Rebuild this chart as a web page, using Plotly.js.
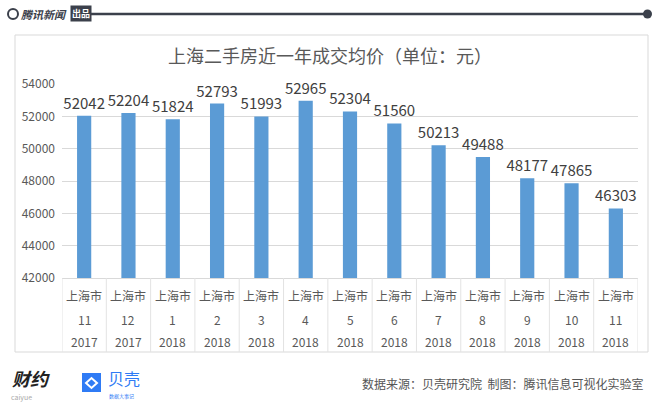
<!DOCTYPE html>
<html>
<head>
<meta charset="utf-8">
<script src="https://cdn.plot.ly/plotly-3.0.1.min.js"></script>
<style>
  body { margin: 0; background: #fff; }
  #plot { width: 660px; height: 402px; }
</style>
</head>
<body>
<div id="plot"></div>
<script>
// data
var regions = ['上海市', '上海市', '上海市', '上海市', '上海市', '上海市', '上海市', '上海市', '上海市', '上海市', '上海市', '上海市', '上海市'];
var months = ['11', '12', '1', '2', '3', '4', '5', '6', '7', '8', '9', '10', '11'];
var years = ['2017', '2017', '2018', '2018', '2018', '2018', '2018', '2018', '2018', '2018', '2018', '2018', '2018'];
var prices = [52042, 52204, 51824, 52793, 51993, 52965, 52304, 51560, 50213, 49488, 48177, 47865, 46303];
var yTicks = [42000, 44000, 46000, 48000, 50000, 52000, 54000];

var W = 660, H = 402;
function px(x) { return x / W; }
function py(y) { return 1 - y / H; }

var cjk = '"Noto Sans CJK SC", "Noto Sans", sans-serif';
var idx = prices.map(function (_, i) { return i; });

var trace = {
    type: 'bar',
    x: idx,
    y: prices,
    width: 0.32,
    marker: { color: '#5b9bd5' },
    text: prices.map(String),
    textposition: 'outside',
    constraintext: 'none',
    textfont: { family: cjk, size: 15, color: '#404040' },
    cliponaxis: false,
    hoverinfo: 'skip'
};

var shapes = [];
var annotations = [];

function note(x, y, text, font, xanchor, xref) {
    var a = { xref: xref || 'paper', yref: 'paper', x: x, y: y, text: text, showarrow: false,
        xanchor: xanchor || 'center', yanchor: 'middle', font: font };
    annotations.push(a);
    return a;
}

// outer frame
shapes.push({ type: 'rect', xref: 'paper', yref: 'paper', x0: px(15), x1: px(648), y0: py(352), y1: py(35),
    line: { color: '#d9d9d9', width: 1 }, layer: 'below' });

// category cell separators
for (var i = 0; i <= prices.length; i++) {
    shapes.push({ type: 'line', xref: 'x', yref: 'paper', x0: i - 0.5, x1: i - 0.5, y0: py(278), y1: py(352),
        line: { color: '#e3e3e3', width: 1 } });
}

// three-row category labels
var catFont = { family: cjk, size: 12, color: '#595959' };
idx.forEach(function (i) {
    note(i, py(295), regions[i], catFont, 'center', 'x');
    note(i, py(319), months[i], catFont, 'center', 'x');
    note(i, py(341), years[i], catFont, 'center', 'x');
});

// header bar
shapes.push({ type: 'line', xref: 'paper', yref: 'paper', x0: px(90), x1: px(647), y0: py(14), y1: py(14),
    line: { color: '#3b404b', width: 2.5 } });
shapes.push({ type: 'circle', xref: 'paper', yref: 'paper', x0: px(643), x1: px(652), y0: py(18.5), y1: py(9.5),
    fillcolor: '#3b404b', line: { width: 0 } });
shapes.push({ type: 'circle', xref: 'paper', yref: 'paper', x0: px(8), x1: px(18), y0: py(19), y1: py(9),
    fillcolor: 'rgba(0,0,0,0)', line: { color: '#3b404b', width: 2 } });
note(px(19), py(14), '<i><b>腾讯新闻</b></i>', { family: cjk, size: 11, color: '#3b404b' }, 'left');
var badge = note(px(70), py(14), '<b>出品</b>', { family: cjk, size: 9, color: '#ffffff' }, 'left');
badge.bgcolor = '#3b404b';
badge.borderpad = 1;

// footer
note(px(645), py(383), '数据来源：贝壳研究院  制图：腾讯信息可视化实验室', { family: cjk, size: 12, color: '#555555' }, 'right');
note(px(10), py(378), '<b><i>财约</i></b>', { family: cjk, size: 18, color: '#222222' }, 'left');
note(px(9), py(397), 'caiyue', { family: cjk, size: 7, color: '#aaaaaa' }, 'left');
shapes.push({ type: 'rect', xref: 'paper', yref: 'paper', x0: px(82), x1: px(101), y0: py(392), y1: py(373),
    fillcolor: '#2f7bf5', line: { width: 0 } });
shapes.push({ type: 'path', xref: 'paper', yref: 'paper',
    path: 'M ' + px(86) + ' ' + py(383) + ' L ' + px(91.5) + ' ' + py(378) + ' L ' + px(97) + ' ' + py(383) + ' L ' + px(91.5) + ' ' + py(388) + ' Z',
    fillcolor: 'rgba(0,0,0,0)', line: { color: '#ffffff', width: 2 } });
note(px(106), py(378), '贝壳', { family: cjk, size: 16, color: '#2f7bf5' }, 'left');
note(px(107), py(396), '数据大事记', { family: cjk, size: 5, color: '#2f7bf5' }, 'left');

var layout = {
    width: W,
    height: H,
    margin: { l: 0, r: 0, t: 0, b: 0 },
    paper_bgcolor: '#ffffff',
    plot_bgcolor: '#ffffff',
    showlegend: false,
    title: {
        text: '上海二手房近一年成交均价（单位：元）',
        x: 0.5, xanchor: 'center',
        y: py(57), yanchor: 'middle',
        font: { family: cjk, size: 18, color: '#595959' }
    },
    xaxis: {
        domain: [px(62), px(638)],
        range: [-0.5, prices.length - 0.5],
        tickvals: idx,
        showticklabels: false,
        showgrid: false,
        zeroline: false,
        showline: true,
        linecolor: '#d9d9d9',
        linewidth: 1,
        ticks: '',
        fixedrange: true
    },
    yaxis: {
        domain: [py(278), py(84)],
        range: [42000, 54000],
        tickvals: yTicks,
        ticktext: yTicks.map(String),
        showgrid: true,
        gridcolor: '#d9d9d9',
        gridwidth: 1,
        zeroline: false,
        showline: false,
        ticks: '',
        ticklabelstandoff: 6,
        tickfont: { family: cjk, size: 12, color: '#595959' },
        fixedrange: true
    },
    shapes: shapes,
    annotations: annotations
};

Plotly.newPlot('plot', [trace], layout, { displayModeBar: false, staticPlot: true });
</script>
</body>
</html>
